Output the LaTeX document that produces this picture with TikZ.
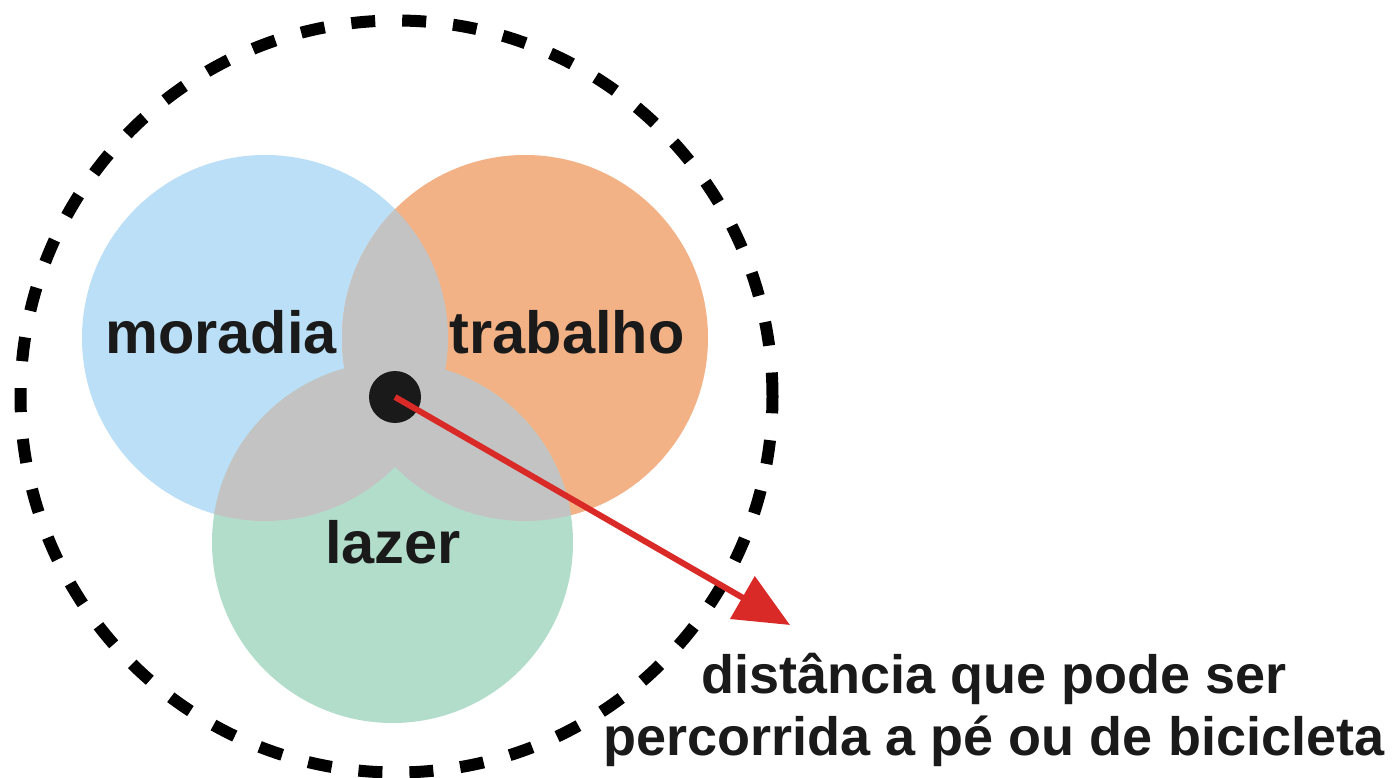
\documentclass[tikz,border=0pt]{standalone}
\usepackage{fontspec}
\setmainfont{Liberation Sans}
\usetikzlibrary{arrows.meta}
\definecolor{cblue}{HTML}{BBDFF6}
\definecolor{corange}{HTML}{F2B286}
\definecolor{cgreen}{HTML}{B3DDCB}
\definecolor{cgray}{HTML}{C3C3C3}
\definecolor{cred}{HTML}{D92A27}
\definecolor{ctext}{HTML}{1A1A1A}
\tikzset{
  setlabel/.style={anchor=base, inner sep=0pt, text=ctext, font=\bfseries\fontsize{59.5}{62}\selectfont},
  note/.style={anchor=base, inner sep=0pt, align=center, text=ctext, font=\bfseries\fontsize{54}{62}\selectfont},
  reach/.style={line width=12pt, dash pattern=on 24pt off 27pt},
  centre/.style={circle, fill=ctext, minimum size=52pt, inner sep=0pt},
  radius arrow/.style={cred, line width=6pt, -{Triangle[length=55pt, width=48pt]}}
}
\begin{document}
\begin{tikzpicture}[x=1pt, y=1pt]
\useasboundingbox (0,-778) rectangle (1393,0);
\fill[white] (0,-778) rectangle (1393,0);
% sets
\fill[cblue] (265,-338) circle[radius=183];
\fill[corange] (525,-338) circle[radius=183];
\fill[cgreen] (392.5,-542.5) circle[radius=180.5];
% pairwise overlaps
\begin{scope}
  \clip (265,-338) circle[radius=183];
  \fill[cgray] (525,-338) circle[radius=183];
  \fill[cgray] (392.5,-542.5) circle[radius=180.5];
\end{scope}
\begin{scope}
  \clip (525,-338) circle[radius=183];
  \fill[cgray] (392.5,-542.5) circle[radius=180.5];
\end{scope}
% reach circle
\draw[reach] (396.5,-396.5) circle[radius=376];
% labels
\node[setlabel] (moradia) at (221,-353) {moradia};
\node[setlabel] (trabalho) at (567,-353) {trabalho};
\node[setlabel] (lazer) at (393,-563) {lazer};
% centre and arrow
\node[centre] (dot) at (395,-397) {};
\coordinate (tip) at (790,-625);
\draw[radius arrow] (dot.center) -- (tip);
\node[note] (dist) at (994,-755) {distância que pode ser\\percorrida a pé ou de bicicleta};
\end{tikzpicture}
\end{document}
